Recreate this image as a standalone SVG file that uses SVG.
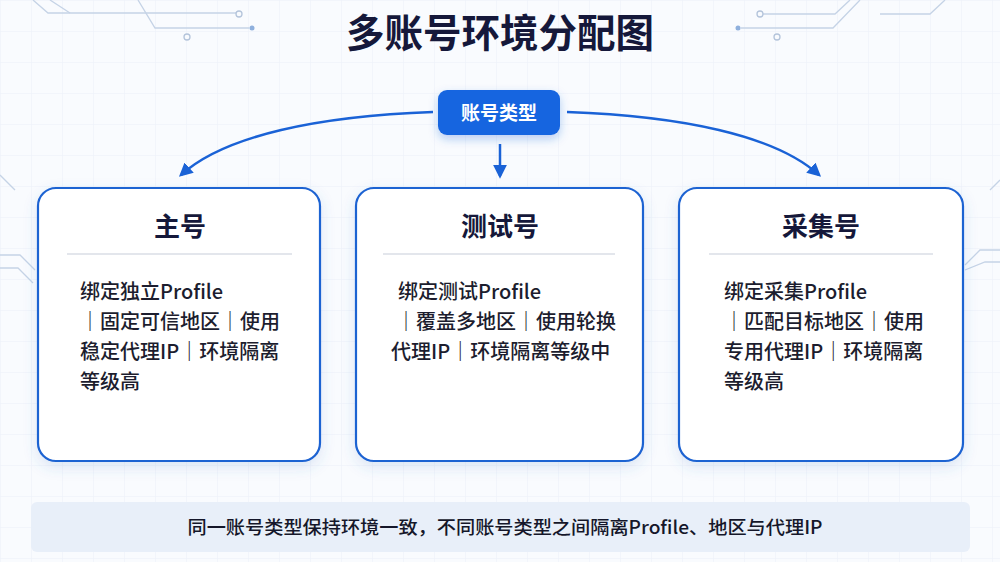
<svg xmlns="http://www.w3.org/2000/svg" width="1000" height="562" viewBox="0 0 1000 562">
<defs>
<style>
text{font-family:"Noto Sans CJK SC","Noto Sans",sans-serif}
.title{font-size:38.5px;font-weight:700;fill:#15183a;text-anchor:middle}
.ct{font-size:26px;font-weight:700;fill:#15183a;text-anchor:middle}
.body{font-size:20px;font-weight:500;fill:#1c1d2e}
.card{fill:#ffffff;stroke:#1f63d2;stroke-width:2.2}
.div{stroke:#e3e6ec;stroke-width:2}
.conn{fill:none;stroke:#1a62d6;stroke-width:2.5}
.circ{fill:none;stroke:#c5d3e6;stroke-width:1.3}
</style>
<marker id="ah" viewBox="0 0 10 10" refX="8" refY="5" markerWidth="5.5" markerHeight="5.5" orient="auto" markerUnits="strokeWidth">
<path d="M0,0 L10,5 L0,10 Z" fill="#1a62d6"/>
</marker>
<pattern id="gp" width="31" height="31" patternUnits="userSpaceOnUse">
<path d="M31,0 L0,0 L0,31" fill="none" stroke="#ebf0f7" stroke-width="1"/>
</pattern>
<filter id="sh" x="-15%" y="-15%" width="130%" height="135%">
<feDropShadow dx="0" dy="5" stdDeviation="7" flood-color="#3d6fc4" flood-opacity="0.16"/>
</filter>
<filter id="sh2" x="-20%" y="-30%" width="140%" height="170%">
<feDropShadow dx="0" dy="4" stdDeviation="5" flood-color="#1a62d6" flood-opacity="0.3"/>
</filter>
</defs>
<rect width="1000" height="562" fill="#f9fbfe"/>
<rect width="1000" height="562" fill="url(#gp)"/>
<g id="decor">
<polyline class="circ" points="33,0 48,13 236,13"/>
<circle cx="239" cy="14" r="3" fill="#f9fbfe" stroke="#b4c4db" stroke-width="1.3"/>
<polyline class="circ" points="138,0 155,28 249,28"/>
<circle cx="252" cy="28" r="2.5" fill="#8fb0dd"/>
<polyline class="circ" points="50,0 70,13"/>
<circle cx="187" cy="37" r="3" fill="#f9fbfe" stroke="#b4c4db" stroke-width="1.3"/>
<polyline class="circ" points="763,14 835,14 850,0"/>
<circle cx="760" cy="14" r="3" fill="#f9fbfe" stroke="#b4c4db" stroke-width="1.3"/>
<polyline class="circ" points="741,28 833,28 860,0"/>
<circle cx="738" cy="28" r="2.5" fill="#8fb0dd"/>
<polyline class="circ" points="880,14 930,14 945,0"/>
<circle cx="777" cy="37" r="3" fill="#f9fbfe" stroke="#b4c4db" stroke-width="1.3"/>
<polyline class="circ" points="0,175 15,190"/>
<polyline class="circ" points="0,255 20,255 35,270"/>
<polyline class="circ" points="0,268 18,268 33,283"/>
<polyline class="circ" points="965,265 980,250 1000,250"/>
<polyline class="circ" points="965,270 985,262 1000,262"/>
<polyline class="circ" points="990,190 1000,180"/>
</g>
<text class="title" x="500" y="47">多账号环境分配图</text>
<g id="connectors">
<path class="conn" d="M433,112 C 320,116 225,135 181,175" marker-end="url(#ah)"/>
<path class="conn" d="M500,144 L500,176" marker-end="url(#ah)"/>
<path class="conn" d="M567,112 C 680,116 775,135 819,175" marker-end="url(#ah)"/>
</g>
<g id="node-type">
<rect x="438" y="90" width="122" height="45" rx="9" fill="#1565e0" filter="url(#sh2)"/>
<text x="499" y="119.5" font-size="19" font-weight="700" fill="#ffffff" text-anchor="middle">账号类型</text>
</g>
<g id="node-main">
<rect class="card" x="38" y="188" width="282" height="273" rx="18" filter="url(#sh)"/>
<text class="ct" x="180" y="236">主号</text>
<line class="div" x1="67" y1="254" x2="292" y2="254"/>
<text class="body" x="80" y="299">绑定独立Profile</text>
<text class="body" x="80" y="329">｜固定可信地区｜使用</text>
<text class="body" x="80" y="359">稳定代理IP｜环境隔离</text>
<text class="body" x="80" y="389">等级高</text>
</g>
<g id="node-test">
<rect class="card" x="356" y="188" width="287" height="273" rx="18" filter="url(#sh)"/>
<text class="ct" x="500" y="236">测试号</text>
<line class="div" x1="383" y1="254" x2="615" y2="254"/>
<text class="body" x="398" y="299">绑定测试Profile</text>
<text class="body" x="396" y="329">｜覆盖多地区｜使用轮换</text>
<text class="body" x="391" y="359">代理IP｜环境隔离等级中</text>
</g>
<g id="node-collect">
<rect class="card" x="679" y="188" width="284" height="273" rx="18" filter="url(#sh)"/>
<text class="ct" x="821" y="236">采集号</text>
<line class="div" x1="709" y1="254" x2="933" y2="254"/>
<text class="body" x="724" y="299">绑定采集Profile</text>
<text class="body" x="724" y="329">｜匹配目标地区｜使用</text>
<text class="body" x="724" y="359">专用代理IP｜环境隔离</text>
<text class="body" x="724" y="389">等级高</text>
</g>
<g id="note">
<rect x="31" y="502" width="939" height="50" rx="6" fill="#e8eff9"/>
<text x="505" y="534" font-size="18" font-weight="500" fill="#15172a" text-anchor="middle" textLength="635" lengthAdjust="spacingAndGlyphs">同一账号类型保持环境一致，不同账号类型之间隔离Profile、地区与代理IP</text>
</g>
</svg>
